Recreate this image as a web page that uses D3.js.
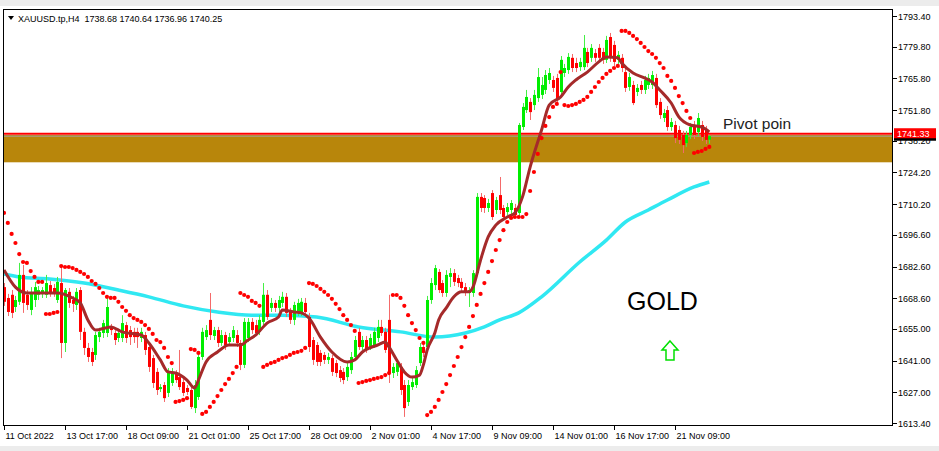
<!DOCTYPE html>
<html><head><meta charset="utf-8">
<script src="https://cdn.jsdelivr.net/npm/d3@7"></script>
<style>body{margin:0;background:#fff}svg{display:block}text{font-family:"Liberation Sans",Arial,sans-serif}</style>
</head><body><svg id="c" width="939" height="451"></svg>
<script>
const opens=[1673.5,1668.7,1670.1,1664.7,1667.0,1678.9,1670.1,1663.4,1667.8,1670.1,1670.5,1670.1,1674.4,1673.1,1667.8,1675.3,1648.8,1671.4,1667.8,1665.6,1672.2,1653.7,1646.6,1644.8,1643.5,1651.4,1653.2,1653.2,1655.9,1653.2,1651.0,1651.0,1656.7,1654.5,1653.7,1653.7,1651.0,1652.3,1647.0,1642.1,1636.0,1628.4,1630.2,1626.7,1631.1,1635.5,1633.7,1631.5,1628.9,1628.0,1620.0,1624.9,1642.6,1651.4,1659.0,1651.9,1654.5,1648.8,1652.3,1649.2,1651.0,1652.3,1648.8,1639.1,1651.0,1658.1,1656.7,1653.7,1658.1,1670.1,1664.3,1666.5,1664.3,1666.5,1669.2,1662.5,1659.0,1662.5,1662.5,1666.5,1660.3,1650.1,1647.9,1644.4,1643.5,1641.3,1642.1,1639.9,1636.8,1636.0,1633.7,1636.8,1642.6,1653.7,1647.0,1650.1,1647.0,1647.9,1651.0,1655.9,1653.7,1659.0,1635.5,1636.0,1638.2,1630.2,1622.7,1629.3,1630.2,1639.9,1647.0,1647.0,1667.8,1674.4,1680.2,1675.3,1670.9,1678.0,1679.7,1677.5,1675.8,1673.5,1670.9,1670.9,1679.7,1713.4,1712.9,1708.5,1715.1,1707.6,1714.2,1708.5,1706.7,1707.6,1708.5,1706.3,1744.3,1751.8,1755.4,1754.0,1757.1,1758.5,1760.7,1765.1,1765.1,1766.0,1759.8,1768.2,1769.5,1774.9,1772.6,1770.8,1770.8,1777.5,1774.9,1777.0,1779.3,1777.5,1774.0,1784.1,1780.6,1774.0,1774.9,1768.6,1762.0,1762.9,1759.8,1762.9,1760.7,1762.9,1762.9,1766.0,1755.4,1748.3,1751.8,1744.3,1745.2,1743.0,1740.8,1737.2,1740.8,1745.2,1742.1,1745.2,1743.0,1738.68];
const highs=[1675.3,1670.5,1672.2,1669.6,1684.2,1683.3,1672.2,1673.5,1675.8,1674.0,1673.5,1678.9,1676.2,1674.9,1678.0,1682.4,1673.1,1673.1,1669.6,1673.1,1673.5,1655.5,1648.8,1646.6,1653.7,1655.5,1659.0,1669.2,1657.2,1654.5,1655.0,1661.1,1658.1,1656.3,1655.5,1655.5,1655.5,1653.7,1649.2,1643.5,1637.7,1630.6,1631.5,1637.7,1637.7,1636.8,1645.7,1633.3,1630.2,1629.3,1632.4,1644.8,1655.5,1656.7,1670.9,1655.9,1655.9,1654.5,1653.7,1653.2,1656.3,1654.5,1650.1,1659.8,1659.8,1659.8,1659.0,1661.1,1675.3,1672.2,1668.7,1667.8,1669.6,1671.4,1670.9,1664.3,1667.0,1668.3,1668.7,1668.7,1662.1,1651.4,1649.2,1645.7,1644.8,1644.4,1643.5,1641.3,1638.6,1637.7,1639.9,1644.8,1651.9,1655.5,1651.9,1651.9,1652.8,1655.5,1659.0,1659.0,1655.5,1670.1,1639.9,1641.3,1639.9,1632.4,1632.4,1633.3,1638.6,1648.8,1648.8,1669.6,1677.5,1683.3,1681.5,1676.6,1681.0,1681.9,1681.5,1678.9,1677.5,1675.3,1673.5,1681.0,1715.1,1715.1,1714.2,1712.5,1716.4,1713.4,1722.2,1709.8,1710.7,1712.0,1710.3,1746.1,1754.9,1760.7,1757.1,1760.7,1770.4,1766.4,1769.5,1770.4,1766.9,1767.8,1775.7,1772.2,1777.0,1776.6,1774.9,1774.9,1785.0,1779.3,1781.0,1778.8,1781.0,1779.3,1784.6,1785.9,1782.4,1777.9,1776.6,1770.4,1768.2,1764.7,1763.3,1764.7,1766.9,1767.8,1769.1,1767.8,1757.1,1752.3,1753.6,1748.3,1747.0,1744.8,1742.6,1742.6,1746.1,1747.0,1750.5,1747.0,1744.8,1740.64];
const lows=[1665.2,1660.7,1659.8,1662.5,1665.6,1662.1,1663.4,1661.1,1664.7,1667.8,1668.7,1668.7,1669.2,1669.2,1666.5,1642.1,1644.8,1664.3,1662.5,1663.4,1650.1,1643.5,1640.4,1638.6,1641.3,1649.2,1651.0,1651.4,1652.3,1647.9,1649.2,1649.2,1648.8,1647.9,1648.8,1646.6,1649.2,1643.5,1636.0,1628.9,1625.8,1627.1,1622.7,1624.9,1629.8,1631.1,1628.0,1625.3,1625.8,1619.6,1617.8,1623.6,1641.3,1650.1,1650.1,1650.1,1647.0,1647.5,1645.7,1647.5,1649.2,1647.0,1636.8,1637.7,1649.2,1652.8,1651.9,1652.3,1656.7,1659.0,1662.5,1662.5,1662.5,1664.7,1660.3,1657.2,1656.7,1660.7,1660.7,1660.7,1644.8,1639.1,1638.6,1638.6,1639.5,1639.5,1634.2,1633.7,1631.5,1630.6,1632.0,1635.1,1641.3,1645.7,1645.7,1644.4,1645.7,1646.6,1649.2,1651.9,1644.4,1631.1,1633.3,1634.2,1625.8,1616.1,1620.9,1628.0,1628.9,1638.6,1642.6,1645.7,1666.1,1672.2,1670.9,1669.2,1669.2,1673.5,1674.0,1673.5,1671.4,1669.6,1664.7,1669.2,1678.4,1706.7,1706.3,1706.7,1703.2,1705.8,1705.8,1704.1,1705.4,1705.8,1704.9,1704.9,1743.0,1750.5,1747.4,1751.8,1755.4,1756.7,1758.9,1763.3,1759.8,1754.5,1758.0,1766.4,1767.8,1768.6,1768.6,1769.1,1769.5,1770.8,1773.1,1773.1,1773.1,1772.2,1772.6,1773.1,1771.3,1772.2,1768.6,1759.8,1760.3,1754.0,1758.0,1758.9,1758.9,1761.1,1761.1,1752.7,1747.9,1746.5,1742.6,1742.6,1737.2,1736.8,1732.8,1735.5,1739.0,1739.0,1740.3,1738.1,1736.8,1736.96];
const closes=[1667.0,1662.5,1662.1,1667.8,1678.9,1666.5,1665.6,1670.9,1673.5,1672.2,1672.2,1675.3,1670.9,1670.9,1675.8,1648.8,1672.2,1666.5,1666.1,1671.4,1653.7,1646.6,1642.6,1640.4,1652.3,1653.7,1657.6,1664.7,1654.5,1650.1,1653.2,1657.6,1651.0,1651.4,1651.4,1651.4,1653.7,1645.7,1638.2,1631.1,1628.0,1629.3,1624.4,1635.5,1636.0,1632.4,1629.3,1626.7,1627.1,1620.5,1630.2,1642.6,1653.7,1654.5,1652.3,1654.5,1648.8,1652.3,1647.9,1651.4,1654.5,1648.8,1639.1,1658.1,1658.1,1654.5,1653.2,1659.0,1670.1,1660.3,1666.5,1664.3,1667.8,1669.2,1662.1,1659.0,1665.6,1666.5,1667.0,1662.5,1647.0,1641.3,1640.4,1640.4,1641.3,1642.6,1636.0,1635.5,1633.3,1632.4,1638.2,1642.6,1650.1,1647.0,1650.1,1645.7,1651.0,1653.7,1655.9,1653.2,1645.7,1635.5,1638.2,1639.9,1628.0,1620.0,1630.2,1631.5,1636.8,1647.0,1644.4,1667.8,1675.3,1681.9,1672.2,1670.9,1678.9,1679.7,1675.8,1675.3,1673.1,1671.4,1672.2,1679.7,1713.4,1708.5,1708.5,1710.7,1704.5,1712.0,1707.6,1704.5,1708.9,1710.7,1705.4,1745.2,1753.2,1757.6,1750.9,1758.5,1766.4,1762.9,1767.3,1768.2,1761.6,1756.3,1774.0,1770.4,1775.3,1770.4,1770.4,1773.1,1779.3,1772.6,1779.3,1774.9,1774.9,1774.0,1782.8,1774.9,1773.1,1776.2,1770.4,1761.6,1766.4,1754.9,1761.6,1760.7,1765.1,1766.0,1767.3,1754.0,1749.6,1750.5,1744.3,1746.5,1739.4,1738.6,1736.3,1740.8,1744.3,1740.8,1748.3,1739.9,1738.6,1740.25];
const sar=[1706.3,1701.9,1697.0,1693.0,1688.1,1684.6,1684.2,1680.6,1678.0,1675.8,1675.8,1661.6,1661.6,1662.1,1662.5,
1682.8,1682.4,1682.4,1681.9,1681.1,1680.2,1679.3,1678.0,1676.2,1674.9,1673.1,1670.9,1669.2,1668.7,1668.7,1667.0,1664.7,1663.0,1661.1,1659.8,1659.0,1658.1,1656.7,1655.0,1652.8,1650.1,1649.2,1646.6,1642.6,1639.9,
1622.7,1623.1,1623.6,1624.4,1646.1,1645.7,1644.4,
1617.4,1618.3,1620.5,1622.7,1625.3,1628.0,1630.6,1632.9,1635.5,1638.2,
1670.9,1670.0,1669.2,1667.4,1666.5,1665.2,
1638.2,1639.1,1639.9,1640.4,1641.3,1642.1,1642.6,1643.5,1644.4,1644.8,1645.3,1646.6,
1675.3,1674.9,1674.0,1672.7,1671.4,1670.0,1668.3,1666.1,1663.8,1661.1,1659.0,1656.7,1654.1,
1631.1,1631.5,1632.0,1632.4,1632.9,1633.3,1633.7,1634.6,1635.5,
1670.0,1670.0,1668.7,1665.2,1661.1,1657.6,1654.5,1651.0,1648.8,
1616.9,1618.3,1620.5,1623.6,1627.1,1630.6,1634.6,1638.6,1642.6,1647.0,1651.4,1655.9,1660.7,1665.6,1670.5,1675.3,1680.2,1685.0,1689.9,1694.3,1698.7,1702.3,1704.1,1704.5,1704.5,1704.5,1705.8,
1716.0,1724.4,1732.4,1739.4,1744.8,1748.7,1753.2,1754.5,1768.6,
1754.0,1753.6,1754.0,1754.5,1755.4,1756.3,1757.6,1759.8,1762.0,1764.2,1766.0,1767.8,1769.1,1770.4,1771.3,
1786.8,1786.8,1785.9,1784.6,1783.2,1781.5,1779.7,1777.9,1776.6,1774.9,1772.6,1770.4,1766.9,1764.7,1761.6,1758.0,1754.9,1751.4,1748.3,
1732.8,1733.3,1733.7,1734.6,1735.5];
const maFastBar=[0,3,6,10,14,18,20,22,24,28,31,36,38,41,43,45,48,50,51,53,56,59,62,64,66,69,72,73,76,78,80,83,86,90,92,94,98,100,101,103,105,107,109,110,111,113,114,116,118,120,122,123,125,127,129,132,134,136,138,141,143,146,148,150,153,156,158,161,162,165,168,170,172,175,177,180,183,185];
const maFastVal=[1681.1,1673.5,1670.9,1670.9,1670.9,1668.7,1666.5,1659.0,1654.5,1655.9,1653.7,1652.3,1648.8,1641.3,1636.0,1635.5,1632.4,1628.9,1632.4,1640.4,1644.8,1647.9,1647.9,1650.1,1652.3,1657.6,1660.3,1663.4,1662.5,1662.1,1659.8,1651.4,1644.8,1640.4,1641.3,1644.8,1647.9,1649.2,1647.0,1641.3,1636.0,1633.7,1634.6,1639.1,1645.7,1653.2,1659.0,1664.3,1669.2,1671.4,1671.4,1673.5,1685.5,1695.7,1700.9,1704.5,1706.3,1713.4,1726.6,1743.0,1754.0,1757.6,1762.0,1765.1,1768.6,1773.1,1775.3,1774.9,1772.6,1768.2,1766.0,1764.2,1760.7,1754.9,1748.8,1745.2,1744.3,1742.1];
const maSlowBar=[0,4,12,21,30,38,47,56,65,73,82,93,104,113,121,126,130,135,141,151,158,163,169,174,181,185];
const maSlowVal=[1679.3,1678.0,1677.1,1675.3,1672.2,1669.2,1665.2,1662.5,1661.1,1661.1,1660.3,1655.9,1653.7,1651.4,1653.2,1655.9,1659.0,1662.1,1669.2,1684.6,1694.3,1702.3,1707.6,1712.0,1717.8,1720.0];
const priceTicks=[1793.40,1779.80,1765.80,1751.80,1738.20,1724.20,1710.20,1696.60,1682.60,1668.60,1655.00,1641.00,1627.00,1613.40];
const timeLabels=["11 Oct 2022","13 Oct 17:00","18 Oct 09:00","21 Oct 01:00","25 Oct 17:00","28 Oct 09:00","2 Nov 01:00","4 Nov 17:00","9 Nov 09:00","14 Nov 01:00","16 Nov 17:00","21 Nov 09:00"];
const timeLabelBars=[0,16,32,48,64,80,96,112,128,144,160,176];
const pivotPrice=1741.33, bidPrice=1740.25, zoneTop=1740.8, zoneBottom=1728.7;
const title="XAUUSD.tp,H4  1738.68 1740.64 1736.96 1740.25";

const svg=d3.select("#c");
const L=3,R=893,T=9,B=426;
const x=d3.scaleLinear().domain([0,176]).range([4,675]);
const y=d3.scaleLinear().domain([1613.4,1793.4]).range([423,16]);
svg.append("rect").attr("x",0).attr("y",0).attr("width",939).attr("height",6).attr("fill","#ececec");
svg.append("rect").attr("x",0).attr("y",446).attr("width",939).attr("height",5).attr("fill","#ececec");
svg.append("defs").append("clipPath").attr("id","cp").append("rect").attr("x",L).attr("y",T).attr("width",R-L).attr("height",B-T);
const g=svg.append("g").attr("clip-path","url(#cp)");
g.append("rect").attr("x",L).attr("width",R-L).attr("y",y(zoneTop)).attr("height",y(zoneBottom)-y(zoneTop)).attr("fill","#b8860b");
g.append("line").attr("x1",L).attr("x2",R).attr("y1",y(bidPrice)).attr("y2",y(bidPrice)).attr("stroke","#a0a0a0").attr("stroke-width",1);
g.append("line").attr("x1",L).attr("x2",R).attr("y1",y(pivotPrice)).attr("y2",y(pivotPrice)).attr("stroke","#ff0000").attr("stroke-width",2);
const line=d3.line().curve(d3.curveMonotoneX);
g.append("path").attr("d",line(maSlowBar.map((b,i)=>[x(b),y(maSlowVal[i])]))).attr("fill","none").attr("stroke","#30e8f2").attr("stroke-width",3.5);
const idx=d3.range(opens.length);
const cg=g.append("g");
idx.forEach(i=>{
  const up=closes[i]>=opens[i];
  const col=up?"#00ee00":"#ff0000";
  const cx=Math.round(x(i))+0.5;
  cg.append("line").attr("x1",cx).attr("x2",cx).attr("y1",y(highs[i])).attr("y2",y(lows[i])).attr("stroke",up?"#44f044":"#f46a6a").attr("stroke-width",1);
  const y1=y(Math.max(opens[i],closes[i])), y2=y(Math.min(opens[i],closes[i]));
  cg.append("rect").attr("x",cx-1.5).attr("width",3).attr("y",y1).attr("height",Math.max(1,y2-y1)).attr("fill",col);
});
g.append("path").attr("d",line(maFastBar.map((b,i)=>[x(b),y(maFastVal[i])]))).attr("fill","none").attr("stroke","#a52a2a").attr("stroke-width",3);
g.selectAll("circle.sar").data(sar).enter().append("circle").attr("class","sar").attr("cx",(d,i)=>x(i)).attr("cy",d=>y(d)).attr("r",2.1).attr("fill","#ff0000");
g.append("text").attr("x",723).attr("y",129).attr("font-size",15.5).attr("fill","#222").text("Pivot poin");
g.append("text").attr("x",627).attr("y",310).attr("font-size",25).attr("fill","#000").text("GOLD");
g.append("path").attr("d","M670,341 L678,350 L674,350 L674,360 L666,360 L666,350 L662,350 Z").attr("fill","#fff").attr("stroke","#00e000").attr("stroke-width",1.5);
svg.append("rect").attr("x",L+0.5).attr("y",T+0.5).attr("width",R-L-1).attr("height",B-T-1).attr("fill","none").attr("stroke","#000").attr("stroke-width",1);
const ra=svg.append("g");
priceTicks.forEach(v=>{
  ra.append("line").attr("x1",R).attr("x2",R+4).attr("y1",Math.round(y(v))+0.5).attr("y2",Math.round(y(v))+0.5).attr("stroke","#000");
  ra.append("text").attr("x",R+5).attr("y",y(v)+3.5).attr("font-size",9).attr("fill","#000").text(v.toFixed(2));
});
ra.append("rect").attr("x",R+1).attr("y",y(pivotPrice)+4).attr("width",42).attr("height",3).attr("fill","#000");
ra.append("rect").attr("x",R+1).attr("y",y(pivotPrice)-5.5).attr("width",42).attr("height",10).attr("fill","#ff0000");
ra.append("text").attr("x",R+4).attr("y",y(pivotPrice)+3).attr("font-size",9).attr("fill","#fff").text(pivotPrice.toFixed(2));
timeLabelBars.forEach((b,i)=>{
  const tx=Math.round(x(b))+0.5;
  svg.append("line").attr("x1",tx).attr("x2",tx).attr("y1",B).attr("y2",B+4).attr("stroke","#000");
  svg.append("text").attr("x",tx+1).attr("y",439).attr("font-size",9).attr("fill","#000").text(timeLabels[i]);
});
svg.append("path").attr("d","M8,16 L14,16 L11,20 Z").attr("fill","#000");
svg.append("text").attr("x",18).attr("y",22).attr("font-size",9).attr("fill","#000").attr("xml:space","preserve").style("white-space","pre").text(title);
</script></body></html>
